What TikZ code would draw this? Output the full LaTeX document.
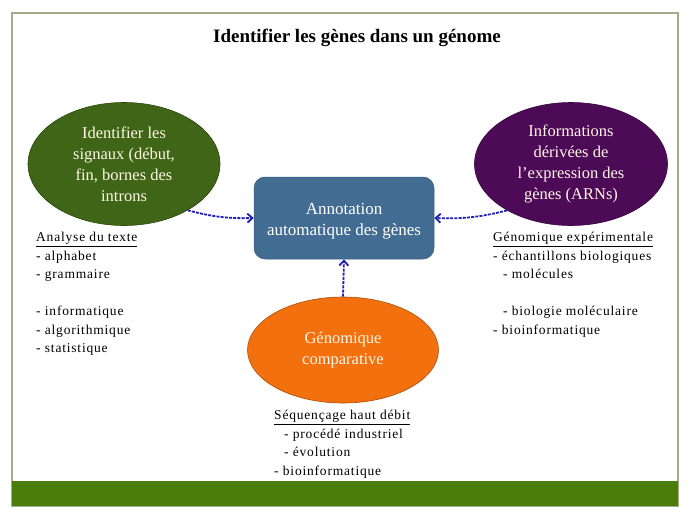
\documentclass[tikz,border=0pt]{standalone}
\usepackage{fontspec}
\setmainfont{Liberation Serif}
\newfontfamily\notefont[LetterSpace=6]{Liberation Serif}
\usetikzlibrary{shapes.geometric,arrows.meta}
\definecolor{frameC}{HTML}{A4AB8C}
\definecolor{barC}{HTML}{4B7D0B}
\definecolor{greenE}{HTML}{3F6516}
\definecolor{purpleE}{HTML}{4D0A57}
\definecolor{boxC}{HTML}{436C92}
\definecolor{orangeE}{HTML}{F3700F}
\definecolor{arrC}{HTML}{2020B8}
\definecolor{lightT}{HTML}{FFF6E6}
\tikzset{
  oval/.style={ellipse, draw=#1!70!black, line width=0.6pt, fill=#1, text=lightT, align=center,
    font=\fontsize{16.5}{21}\selectfont, inner sep=0pt},
  annbox/.style={rectangle, rounded corners=11pt, fill=boxC, draw=boxC!85!black, line width=0.5pt,
    text=white, align=center, minimum width=180pt, minimum height=82pt, font=\fontsize{17}{21}\selectfont},
  notes/.style={anchor=north west, align=left, inner sep=0pt, font=\notefont\fontsize{13.5}{18.5}\selectfont},
  link/.style={draw=arrC, line width=1.8pt, dash pattern=on 3pt off 1.2pt, -{Straight Barb[length=5pt,width=9pt]}}
}
\begin{document}
\begin{tikzpicture}[x=1pt,y=-1pt]
\useasboundingbox (0,0) rectangle (689,517);
% frame and bar
\draw[frameC, line width=2pt] (12,13) rectangle (678,506);
\fill[barC] (12,481) rectangle (678,506);
% title
\node[font=\fontsize{19}{22}\selectfont\bfseries] (title) at (357,38) {Identifier les gènes dans un génome};
% nodes
\node[oval=greenE, minimum width=192pt, minimum height=123pt] (sig) at (124,164)
  {Identifier les\\signaux (début,\\fin, bornes des\\introns};
\node[oval=purpleE, minimum width=193pt, minimum height=123pt] (expr) at (571,164)
  {Informations\\dérivées de\\l’expression des\\gènes (ARNs)};
\node[oval=orangeE, minimum width=191pt, minimum height=106pt] (comp) at (343,350)
  {Génomique\\comparative};
\node[annbox] (ann) at (344,218) {};
\node[text=white, align=center, font=\fontsize{17}{21}\selectfont] (anntext) at (344,221) {Annotation\\automatique des gènes};
% arrows
\draw[link] (sig.-36) to[bend right=8] (ann.west);
\draw[link] (expr.-144) to[bend left=8] (ann.east);
\draw[link] (comp.north) -- (ann.south);
% notes
\node[notes] (left) at (36,232) {\underline{Analyse du texte}\\- alphabet\\- grammaire\\[18.5pt]- informatique\\- algorithmique\\- statistique};
\node[notes] (right) at (493,232) {\underline{Génomique expérimentale}\\- échantillons biologiques\\\hspace*{10pt}- molécules\\[18.5pt]\hspace*{10pt}- biologie moléculaire\\- bioinformatique};
\node[notes] (bottom) at (274,410) {\underline{Séquençage haut débit}\\\hspace*{10pt}- procédé industriel\\\hspace*{10pt}- évolution\\- bioinformatique};
\end{tikzpicture}
\end{document}
